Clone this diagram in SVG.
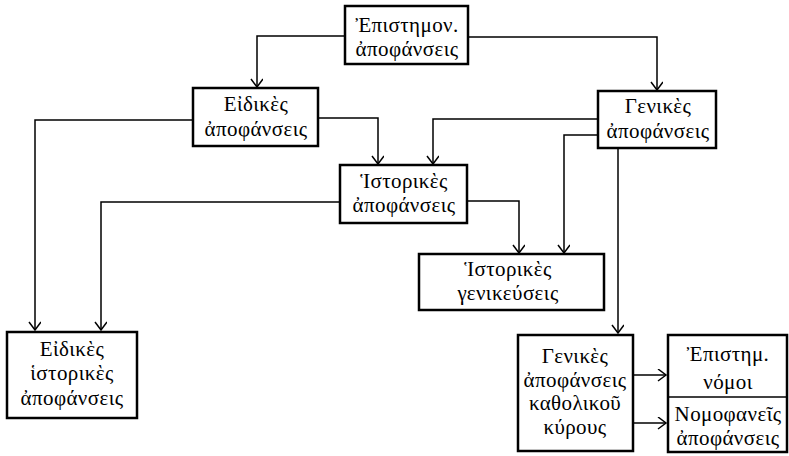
<svg xmlns="http://www.w3.org/2000/svg" width="789" height="456" viewBox="0 0 789 456">
<style>
.box{fill:#fff;stroke:#000;stroke-width:2.5}
.t{font-family:"Liberation Serif","DejaVu Serif",serif;font-size:21px;letter-spacing:0.4px;text-anchor:middle;fill:#000}
.c{fill:none;stroke:#000;stroke-width:1.5}
</style>
<defs>
<marker id="ah" markerUnits="userSpaceOnUse" markerWidth="12" markerHeight="14" refX="9" refY="6" orient="auto">
<path d="M1,0 L9,6 L1,12" fill="none" stroke="#000" stroke-width="1.5"/>
</marker>
</defs>
<rect width="789" height="456" fill="#fff"/>
<g id="connectors">
<path class="c" d="M345,36 H257 V87" marker-end="url(#ah)"/>
<path class="c" d="M468,37 H657 V90" marker-end="url(#ah)"/>
<path class="c" d="M193,120 H35 V330" marker-end="url(#ah)"/>
<path class="c" d="M318,118 H378 V164" marker-end="url(#ah)"/>
<path class="c" d="M598,119 H433 V164" marker-end="url(#ah)"/>
<path class="c" d="M598,135 H564 V253" marker-end="url(#ah)"/>
<path class="c" d="M618,148 V333" marker-end="url(#ah)"/>
<path class="c" d="M340,202 H101 V330" marker-end="url(#ah)"/>
<path class="c" d="M467,201 H519 V253" marker-end="url(#ah)"/>
<path class="c" d="M633,375 H666" marker-end="url(#ah)"/>
<path class="c" d="M633,423 H666" marker-end="url(#ah)"/>
</g>
<g id="n-epistimon">
<rect class="box" x="345" y="6" width="123" height="58"/>
<text class="t" x="407" y="32">Ἐπιστημον.</text>
<text class="t" x="407" y="56">ἀποφάνσεις</text>
</g>
<g id="n-eidikes">
<rect class="box" x="193" y="88" width="125" height="58"/>
<text class="t" x="256" y="111">Εἰδικὲς</text>
<text class="t" x="256" y="136">ἀποφάνσεις</text>
</g>
<g id="n-genikes">
<rect class="box" x="598" y="91" width="118" height="57"/>
<text class="t" x="658" y="113">Γενικὲς</text>
<text class="t" x="658" y="138">ἀποφάνσεις</text>
</g>
<g id="n-istorikes">
<rect class="box" x="340" y="165" width="127" height="58"/>
<text class="t" x="404" y="188">Ἱστορικὲς</text>
<text class="t" x="404" y="212">ἀποφάνσεις</text>
</g>
<g id="n-genikeuseis">
<rect class="box" x="419" y="254" width="185" height="56"/>
<text class="t" x="508" y="276">Ἱστορικὲς</text>
<text class="t" x="508" y="300">γενικεύσεις</text>
</g>
<g id="n-eidikes-istorikes">
<rect class="box" x="7" y="332" width="130" height="86"/>
<text class="t" x="72" y="356">Εἰδικὲς</text>
<text class="t" x="72" y="380">ἱστορικὲς</text>
<text class="t" x="72" y="405">ἀποφάνσεις</text>
</g>
<g id="n-katholikou">
<rect class="box" x="518" y="335" width="115" height="116"/>
<text class="t" x="575" y="363">Γενικὲς</text>
<text class="t" x="575" y="387">ἀποφάνσεις</text>
<text class="t" x="575" y="410">καθολικοῦ</text>
<text class="t" x="575" y="434">κύρους</text>
</g>
<g id="n-right">
<rect class="box" x="668" y="335" width="119" height="117"/>
<line x1="668" y1="397" x2="787" y2="397" stroke="#000" stroke-width="1.6"/>
<text class="t" x="728" y="361">Ἐπιστημ.</text>
<text class="t" x="728" y="389">νόμοι</text>
<text class="t" x="728" y="421">Νομοφανεῖς</text>
<text class="t" x="728" y="445">ἀποφάνσεις</text>
</g>
</svg>
